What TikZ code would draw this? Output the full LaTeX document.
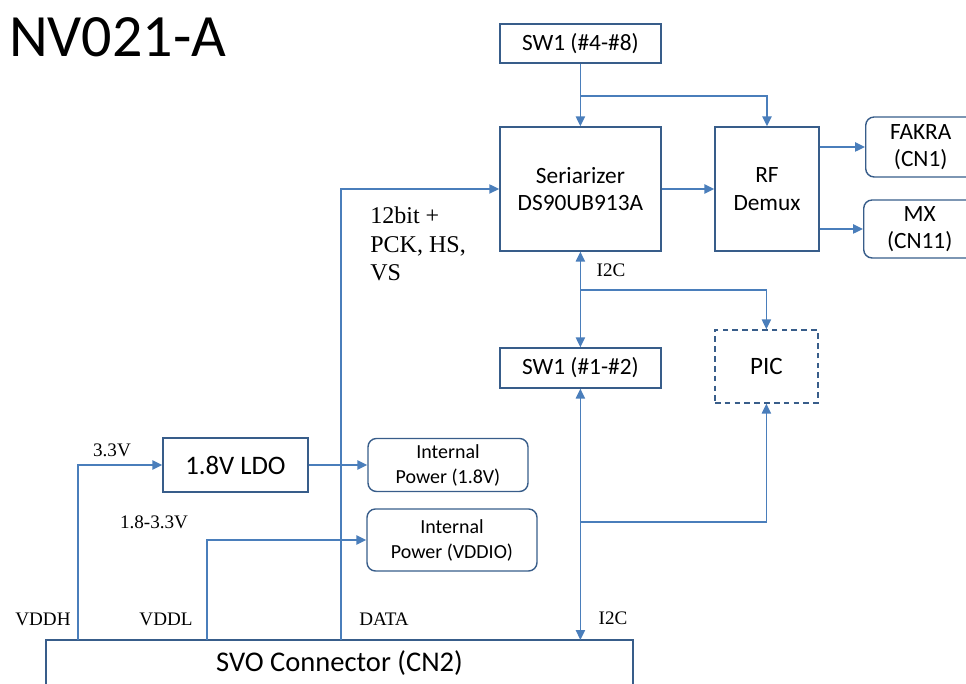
\documentclass[tikz,border=0pt]{standalone}
\usepackage{fontspec}
\setmainfont{Carlito}
\newfontfamily\lblfont{Liberation Serif}
\usetikzlibrary{arrows.meta,positioning}
\definecolor{boxc}{RGB}{56,93,138}
\definecolor{linec}{RGB}{74,126,187}
\tikzset{
  blk/.style={draw=boxc, line width=1pt, align=center, inner sep=0pt,
    font=\fontsize{16.6}{19.5}\selectfont},
  rblk/.style={blk, rounded corners=6pt},
  link/.style={draw=linec, line width=1.1pt, -{Triangle[length=7pt,width=6.5pt]}},
  dlink/.style={link, {Triangle[length=7pt,width=6.5pt]}-{Triangle[length=7pt,width=6.5pt]}},
  lbl/.style={font=\lblfont\fontsize{13.6}{20}\selectfont, inner sep=0pt}
}
\begin{document}
\begin{tikzpicture}
\useasboundingbox (0,0) rectangle (24.15,17.1);
\clip (0,0) rectangle (24.15,17.1);

% Title
\node[anchor=base west, inner sep=0pt, font=\fontsize{42.7}{50}\selectfont] (title) at (0.22,15.675) {NV021-A};

% Serializer side
\node[blk, minimum width=4.025cm, minimum height=0.975cm] (sw1top) at (14.51,16.0125) {SW1 (\#4-\#8)};
\node[blk, minimum width=4.025cm, minimum height=3.1cm] (ser) at (14.51,12.375) {Seriarizer\\DS90UB913A};
\node[blk, minimum width=2.6cm, minimum height=3.1cm] (demux) at (19.175,12.375) {RF\\Demux};
\node[rblk, anchor=west, minimum width=2.75cm, minimum height=1.5cm] (fakra) at (21.625,13.425) {FAKRA\\(CN1)};
\node[rblk, anchor=west, minimum width=2.8cm, minimum height=1.45cm] (mx) at (21.575,11.375) {MX\\(CN11)};
\node[blk, minimum width=4.025cm, minimum height=1cm] (sw1bot) at (14.51,7.9) {SW1 (\#1-\#2)};
\node[blk, dashed, dash pattern=on 4pt off 3pt, minimum width=2.575cm, minimum height=1.825cm,
  font=\fontsize{17.8}{20}\selectfont] (pic) at (19.16,7.9375) {PIC};

% Power side
\node[blk, minimum width=3.625cm, minimum height=1.35cm, font=\fontsize{19}{22}\selectfont] (ldo) at (5.8875,5.475) {1.8V LDO};
\node[rblk, minimum width=4cm, minimum height=1.325cm, font=\fontsize{14.2}{17.8}\selectfont] (int18) at (11.2,5.475) {Internal\\Power (1.8V)};
\node[rblk, minimum width=4.25cm, minimum height=1.55cm, font=\fontsize{14.2}{17.8}\selectfont] (intvdd) at (11.3,3.6) {Internal\\Power (VDDIO)};

% Connector
\node[blk, minimum width=14.675cm, minimum height=1.15cm, font=\fontsize{20.3}{24}\selectfont] (svo) at (8.4875,0.525) {SVO Connector (CN2)};
\coordinate (pvddh) at (1.95,1.1);
\coordinate (pvddl) at (5.175,1.1);
\coordinate (pdata) at (8.525,1.1);
\coordinate (pi2c) at (14.51,1.1);
\coordinate (jtop) at (14.51,14.7);
\coordinate (ji2c) at (14.51,9.85);
\coordinate (jbot) at (14.51,4.05);

% Links
\draw[link] (sw1top.south) -- (ser.north);
\draw[link] (jtop) -| (demux.north);
\draw[link] (ser.east) -- (demux.west);
\draw[link] (demux.east |- fakra) -- (fakra.west);
\draw[link] (demux.east |- mx) -- (mx.west);
\draw[link] (pdata) |- (ser.west);
\draw[dlink] (ser.south) -- (sw1bot.north);
\draw[link] (ji2c) -| (pic.north);
\draw[dlink] (sw1bot.south) -- (pi2c);
\draw[link] (jbot) -| (pic.south);
\draw[link] (pvddh) |- (ldo.west);
\draw[link] (ldo.east) -- (int18.west);
\draw[link] (pvddl) |- (intvdd.west);

% Labels
\node[lbl] (l33) at (2.8,5.85) {3.3V};
\node[lbl] (l1833) at (3.85,4.05) {1.8-3.3V};
\node[lbl] (lvddh) at (1.075,1.625) {VDDH};
\node[lbl] (lvddl) at (4.15,1.625) {VDDL};
\node[lbl] (ldata) at (9.6,1.625) {DATA};
\node[lbl] (li2ca) at (15.275,10.35) {I2C};
\node[lbl] (li2cb) at (15.325,1.65) {I2C};
\node[lbl, anchor=north west, align=left, font=\lblfont\fontsize{17.1}{20.3}\selectfont] (lbus) at (9.25,11.93) {12bit +\\PCK, HS,\\VS};
\end{tikzpicture}
\end{document}
